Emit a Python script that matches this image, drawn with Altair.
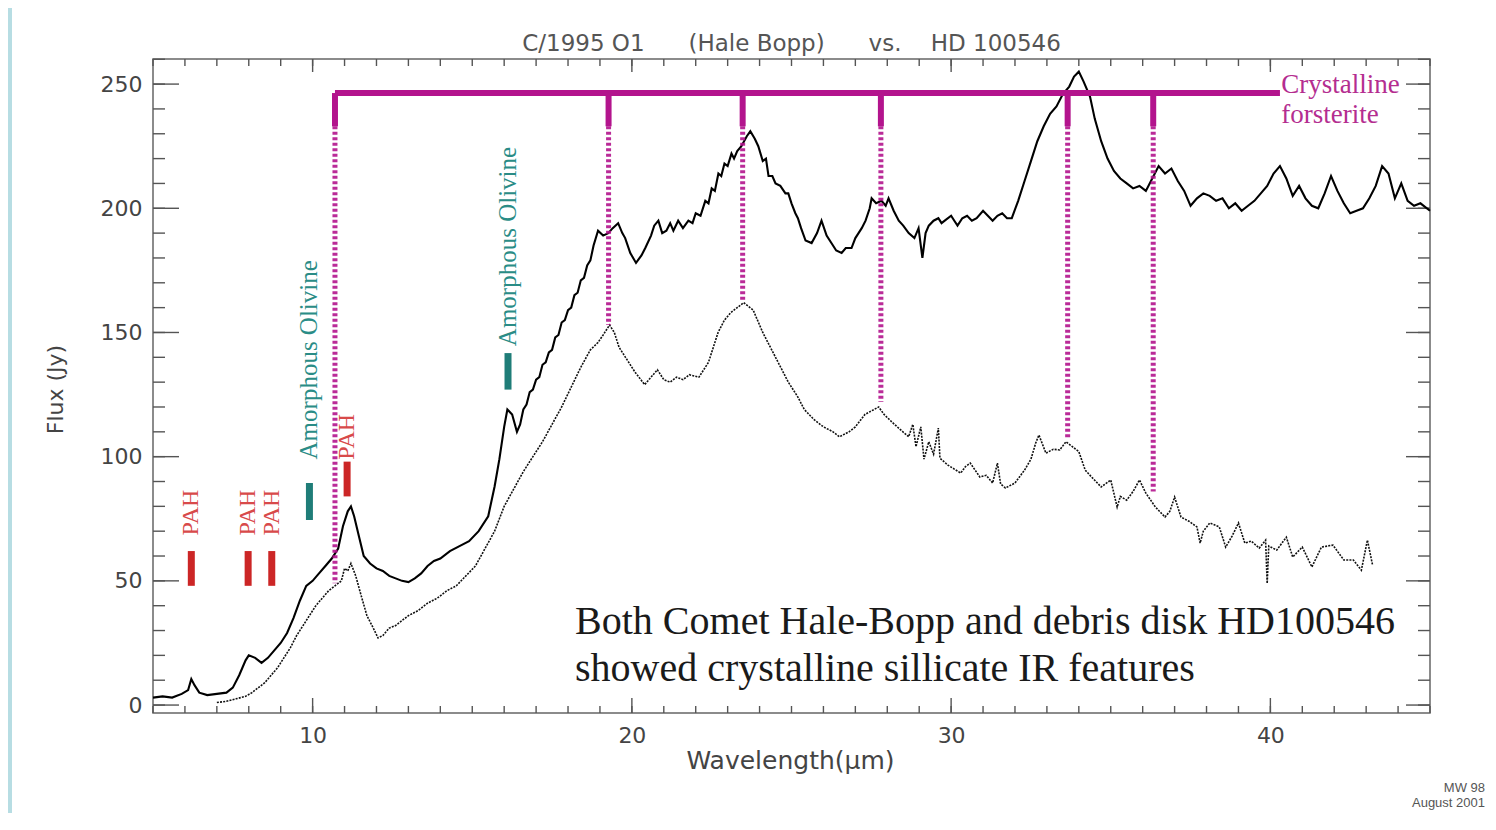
import altair as alt
import pandas as pd

# ---------------- data: (wavelength um, flux Jy) ----------------
comet_points = [
    (5.0, 3), (5.3, 3.5), (5.6, 3), (5.9, 4.5), (6.1, 6), (6.2, 10.5), (6.3, 8), (6.45, 5), (6.7, 4), (7.0, 4.5),
    (7.3, 5), (7.5, 7), (7.7, 12), (7.9, 18), (8.0, 20), (8.2, 19), (8.4, 17), (8.6, 19), (8.8, 22), (9.0, 25),
    (9.2, 29), (9.4, 35), (9.6, 42), (9.8, 48), (10.0, 50), (10.2, 53), (10.4, 56), (10.6, 59), (10.8, 63),
    (10.95, 72), (11.1, 78), (11.2, 80), (11.3, 76), (11.45, 68), (11.6, 60), (11.8, 57), (12.0, 55), (12.2, 54),
    (12.4, 52), (12.6, 51), (12.8, 50), (13.0, 49.5), (13.2, 51), (13.4, 53), (13.6, 56), (13.8, 58), (14.0, 59),
    (14.3, 62), (14.6, 64), (14.9, 66), (15.2, 70), (15.5, 76), (15.7, 88), (15.85, 99), (16.0, 112), (16.1, 119),
    (16.25, 117), (16.4, 110), (16.5, 113), (16.6, 119), (16.7, 121), (16.8, 126), (16.9, 127), (17.0, 131),
    (17.1, 132), (17.2, 137), (17.3, 138), (17.4, 142), (17.5, 143), (17.6, 148), (17.7, 149), (17.8, 154),
    (17.9, 155), (18.0, 159), (18.1, 160), (18.2, 165), (18.3, 166), (18.4, 171), (18.5, 172), (18.6, 177),
    (18.7, 179), (18.8, 185), (18.94, 191), (19.1, 189), (19.26, 190), (19.4, 192), (19.57, 194), (19.7, 190),
    (19.79, 188), (19.95, 182), (20.13, 178), (20.3, 181), (20.42, 184), (20.6, 189), (20.7, 193), (20.83, 195),
    (20.95, 190), (21.08, 191), (21.2, 194), (21.3, 191), (21.45, 195), (21.6, 192), (21.77, 195), (21.9, 194),
    (22.0, 198), (22.15, 197), (22.3, 203), (22.4, 202), (22.5, 208), (22.6, 207), (22.71, 214), (22.8, 213),
    (22.9, 218), (23.0, 217), (23.12, 222), (23.2, 220), (23.3, 223), (23.43, 225), (23.6, 229), (23.71, 231),
    (23.85, 228), (23.96, 225), (24.1, 219), (24.2, 220), (24.28, 213), (24.4, 213), (24.5, 210), (24.65, 209),
    (24.81, 206), (24.9, 206), (25.0, 202), (25.12, 198), (25.2, 196), (25.3, 192), (25.44, 187), (25.63, 186),
    (25.8, 190), (25.94, 195), (26.1, 189), (26.25, 186), (26.4, 183), (26.57, 182), (26.7, 184), (26.88, 184),
    (27.0, 188), (27.1, 190), (27.2, 192), (27.32, 195), (27.45, 200), (27.51, 204), (27.65, 202), (27.82, 203),
    (27.95, 201), (28.04, 204), (28.2, 199), (28.36, 195), (28.5, 193), (28.67, 190), (28.85, 188), (28.98, 192),
    (29.1, 180), (29.2, 190), (29.3, 193), (29.45, 195), (29.6, 196), (29.7, 194), (29.8, 195), (30.0, 197),
    (30.1, 195), (30.2, 193), (30.35, 196), (30.5, 197), (30.65, 195), (30.8, 196), (31.0, 199), (31.15, 197),
    (31.3, 195), (31.45, 197), (31.6, 198), (31.75, 196), (31.9, 196), (32.1, 203), (32.3, 211), (32.5, 219),
    (32.7, 227), (32.9, 233), (33.1, 238), (33.3, 241), (33.5, 246), (33.7, 249), (33.85, 253), (34.0, 255),
    (34.15, 251), (34.35, 245), (34.5, 236), (34.7, 227), (34.9, 220), (35.1, 215), (35.3, 212), (35.5, 210),
    (35.7, 208), (35.9, 209), (36.1, 207), (36.3, 212), (36.5, 217), (36.7, 214), (36.9, 216), (37.1, 211),
    (37.3, 207), (37.5, 201), (37.7, 204), (37.9, 206), (38.1, 205), (38.3, 203), (38.5, 204), (38.7, 200),
    (38.9, 202), (39.1, 199), (39.3, 201), (39.5, 203), (39.7, 206), (39.9, 209), (40.1, 214), (40.3, 217),
    (40.5, 212), (40.7, 205), (40.9, 209), (41.1, 204), (41.3, 201), (41.5, 200), (41.7, 206), (41.9, 213),
    (42.1, 207), (42.3, 202), (42.5, 198), (42.7, 199), (42.9, 200), (43.1, 204), (43.3, 209), (43.5, 217),
    (43.7, 214), (43.9, 204), (44.1, 210), (44.3, 203), (44.5, 201), (44.7, 202), (45.0, 199),
]

disk_points = [
    (7.0, 1), (7.3, 1.5), (7.6, 2.5), (7.9, 3.5), (8.1, 5), (8.3, 7), (8.5, 9), (8.7, 12), (8.9, 15), (9.1, 19),
    (9.3, 23), (9.5, 28), (9.7, 32), (9.9, 36), (10.1, 40), (10.3, 43), (10.5, 46), (10.7, 48), (10.9, 50),
    (11.0, 55), (11.1, 54), (11.2, 57), (11.35, 52), (11.5, 45), (11.7, 36), (11.9, 31), (12.05, 27), (12.2, 28),
    (12.4, 31), (12.6, 32), (12.8, 34), (13.0, 36), (13.3, 38), (13.6, 41), (13.9, 43), (14.2, 46), (14.5, 48),
    (14.8, 52), (15.1, 56), (15.4, 63), (15.7, 70), (16.0, 80), (16.3, 87), (16.6, 94), (16.9, 100), (17.2, 106),
    (17.5, 113), (17.8, 120), (18.1, 128), (18.4, 136), (18.7, 143), (18.94, 146), (19.1, 149), (19.3, 153),
    (19.45, 150), (19.6, 144), (19.8, 140), (20.1, 134), (20.4, 129), (20.6, 132), (20.8, 135), (21.0, 131),
    (21.2, 130), (21.4, 132), (21.6, 131), (21.8, 133), (22.1, 132), (22.4, 138), (22.7, 150), (22.9, 155),
    (23.1, 158), (23.3, 160), (23.5, 162), (23.8, 159), (24.1, 150), (24.5, 140), (24.9, 130), (25.2, 124),
    (25.4, 119), (25.7, 115), (26.0, 112), (26.3, 110), (26.5, 108), (26.8, 110), (27.0, 112), (27.3, 117),
    (27.73, 120), (27.9, 117), (28.14, 114), (28.4, 111), (28.67, 108), (28.8, 113), (28.9, 104), (29.05, 112),
    (29.15, 99), (29.3, 106), (29.45, 101), (29.6, 111.5), (29.65, 99.4), (29.9, 96.6), (30.1, 95), (30.3, 93.4),
    (30.45, 96), (30.6, 97.4), (30.9, 91.8), (31.1, 92.5), (31.3, 89.4), (31.45, 97.4), (31.55, 89), (31.7, 87.4),
    (32.0, 89.4), (32.3, 94.6), (32.5, 99), (32.65, 105.5), (32.75, 108.7), (32.97, 101.4), (33.2, 103),
    (33.4, 102.7), (33.6, 106), (33.8, 104), (34.0, 102), (34.2, 94.6), (34.4, 91.8), (34.7, 87.8), (35.0, 90.6),
    (35.2, 79.7), (35.3, 84), (35.5, 82.5), (35.7, 86), (35.9, 90.6), (36.1, 85.3), (36.4, 79.7), (36.7, 75.7),
    (36.85, 78), (37.0, 83.7), (37.2, 75.7), (37.45, 74), (37.7, 71.7), (37.8, 65.2), (37.9, 70), (38.1, 73.3),
    (38.4, 71.7), (38.6, 63.6), (38.8, 68), (39.0, 73.3), (39.2, 65.2), (39.4, 66), (39.65, 63.2), (39.85, 66.4),
    (39.9, 49), (39.95, 64), (40.2, 62.4), (40.5, 67.6), (40.7, 59.6), (41.0, 63.6), (41.3, 55.6), (41.6, 63.6),
    (41.96, 64.4), (42.3, 58.4), (42.6, 58.4), (42.85, 54.3), (43.04, 66.4), (43.2, 56.4),
]

forsterite_wl = [10.7, 19.27, 23.47, 27.8, 33.65, 36.33]
forsterite_dot_end = [49, 153, 163, 122, 107, 86]
forsterite_level = 246.4
forsterite_stub_end = 233
forsterite_bar_end = 40.3

pah_wl = [6.2, 7.98, 8.72, 11.08]
pah_lo = [48, 48, 48, 84]
pah_hi = [62, 62, 62, 98]
pah_label_y = [77.5, 77.5, 77.5, 108]

olivine_wl = [9.9, 16.12]
olivine_lo = [74.5, 127]
olivine_hi = [89.4, 141.7]
olivine_label_y = [139, 184.6]

x_major_ticks = [10, 20, 30, 40]
x_minor_ticks = list(range(5, 46))
y_major_ticks = [0, 50, 100, 150, 200, 250]
y_minor_ticks = list(range(0, 261, 10))

caption_lines = ["Both Comet Hale-Bopp and debris disk HD100546",
                 "showed crystalline sillicate IR features"]
caption_y = [28.6, 9.8]
caption_x = 18.22

# ---------------- layout ----------------
W, H = 1277, 654
PL, PT, PR, PB = 145, 51, 58, 100

MAG = "#b3148d"
RED = "#cc2626"
TEAL = "#1f7d78"
AX = "#555555"

xscale = alt.Scale(domain=[5, 45], nice=False, zero=False)
yscale = alt.Scale(domain=[-3.2, 260.1], nice=False, zero=False)
xaxis = alt.Axis(values=x_major_ticks, ticks=False, domain=False, grid=False, format="d",
                 labelFont="DejaVu Sans", labelFontSize=22, labelColor="#444", labelPadding=12,
                 title="Wavelength(\u03bcm)", titleFont="DejaVu Sans", titleFontSize=25,
                 titleFontWeight="normal", titleColor="#444", titleX=637, titleY=47,
                 titleBaseline="middle", titleAlign="center")
yaxis = alt.Axis(values=y_major_ticks, ticks=False, domain=False, grid=False, format="d",
                 labelFont="DejaVu Sans", labelFontSize=22, labelColor="#444", labelPadding=11,
                 title="Flux (Jy)", titleFont="DejaVu Sans", titleFontSize=22,
                 titleFontWeight="normal", titleColor="#444", titleX=-98, titleY=330,
                 titleBaseline="middle", titleAlign="center", titleAngle=270)


def X(f):
    return alt.X(f, type="quantitative", scale=xscale, axis=xaxis)


def Y(f):
    return alt.Y(f, type="quantitative", scale=yscale, axis=yaxis)


comet = pd.DataFrame(comet_points, columns=["x", "y"])
disk = pd.DataFrame(disk_points, columns=["x", "y"])
fors = pd.DataFrame({"x": forsterite_wl, "y": forsterite_dot_end,
                     "top": [forsterite_level] * len(forsterite_wl),
                     "stub": [forsterite_stub_end] * len(forsterite_wl)})
fors_bar = pd.DataFrame({"x": [forsterite_wl[0]], "x2": [forsterite_bar_end], "y": [forsterite_level]})
pah = pd.DataFrame({"x": pah_wl, "y": pah_lo, "y2": pah_hi, "ly": pah_label_y, "t": ["PAH"] * 4})
oliv = pd.DataFrame({"x": olivine_wl, "y": olivine_lo, "y2": olivine_hi, "ly": olivine_label_y,
                     "t": ["Amorphous Olivine"] * 2})
xmaj = pd.DataFrame({"x": x_major_ticks})
xmin = pd.DataFrame({"x": x_minor_ticks})
ymaj = pd.DataFrame({"y": y_major_ticks})
ymin = pd.DataFrame({"y": y_minor_ticks})
cap = pd.DataFrame({"x": [caption_x] * 2, "y": caption_y, "t": caption_lines})
fors_lbl = pd.DataFrame({"x": [40.34, 40.34], "y": [249.6, 237.5], "t": ["Crystalline", "forsterite"]})

layers = []

# page background (thin blue strip on the left)
layers.append(alt.Chart(pd.DataFrame({"k": [0]})).mark_rect(color="#b7dde3").encode(
    x=alt.value(-PL), x2=alt.value(-PL + 4), y=alt.value(-PT), y2=alt.value(H + PB)))


def tick_x(df, length, top):
    if top:
        return alt.Chart(df).mark_rule(color=AX, strokeWidth=1.4).encode(
            x=X("x"), y=alt.value(0), y2=alt.value(length))
    return alt.Chart(df).mark_rule(color=AX, strokeWidth=1.4).encode(
        x=X("x"), y=alt.value(H), y2=alt.value(H - length))


def tick_y(df, length, right):
    if right:
        return alt.Chart(df).mark_rule(color=AX, strokeWidth=1.4).encode(
            y=Y("y"), x=alt.value(W), x2=alt.value(W - length))
    return alt.Chart(df).mark_rule(color=AX, strokeWidth=1.4).encode(
        y=Y("y"), x=alt.value(0), x2=alt.value(length))


layers += [tick_x(xmin, 7, False), tick_x(xmaj, 15, False), tick_x(xmin, 7, True), tick_x(xmaj, 13, True),
           tick_y(ymin, 12, False), tick_y(ymaj, 26, False), tick_y(ymin, 12, True), tick_y(ymaj, 24, True)]

# spectra
layers.append(alt.Chart(disk).mark_line(color="#111", strokeWidth=1.6, strokeDash=[2, 1.2]).encode(
    x=X("x"), y=Y("y")))
layers.append(alt.Chart(comet).mark_line(color="#000", strokeWidth=2.1).encode(x=X("x"), y=Y("y")))

# forsterite markers
layers.append(alt.Chart(fors).mark_rule(color=MAG, strokeWidth=5, strokeDash=[3, 2.5], opacity=0.9).encode(
    x=X("x"), y=Y("stub"), y2="y"))
layers.append(alt.Chart(fors).mark_rule(color=MAG, strokeWidth=6).encode(
    x=X("x"), y=Y("top"), y2="stub"))
layers.append(alt.Chart(fors_bar).mark_rule(color=MAG, strokeWidth=6).encode(
    x=X("x"), x2="x2", y=Y("y")))
layers.append(alt.Chart(fors_lbl).mark_text(color="#b42d90", font="Liberation Serif", fontSize=27,
                                            align="left", baseline="middle").encode(
    x=X("x"), y=Y("y"), text="t:N"))

# PAH and olivine bars + labels
layers.append(alt.Chart(pah).mark_rule(color=RED, strokeWidth=7).encode(x=X("x"), y=Y("y"), y2="y2"))
layers.append(alt.Chart(pah).mark_text(color="#d84a4a", font="Liberation Serif", fontSize=24, angle=270,
                                       align="center", baseline="middle").encode(
    x=X("x"), y=Y("ly"), text="t:N"))
layers.append(alt.Chart(oliv).mark_rule(color=TEAL, strokeWidth=7).encode(x=X("x"), y=Y("y"), y2="y2"))
layers.append(alt.Chart(oliv).mark_text(color="#2a8c86", font="Liberation Serif", fontSize=25, angle=270,
                                        align="center", baseline="middle").encode(
    x=X("x"), y=Y("ly"), text="t:N"))

# caption
layers.append(alt.Chart(cap).mark_text(color="#1a1a1a", font="Liberation Serif", fontSize=40,
                                       align="left", baseline="alphabetic").encode(
    x=X("x"), y=Y("y"), text="t:N"))

# title and credits
NB = "\u00a0"
title_txt = f"C/1995 O1{NB * 6}(Hale Bopp){NB * 6}vs.{NB * 4}HD 100546"
layers.append(alt.Chart(pd.DataFrame({"t": [title_txt]})).mark_text(
    color="#555", font="DejaVu Sans", fontSize=23, align="center", baseline="middle").encode(
    x=alt.value(W / 2), y=alt.value(-15), text="t:N"))
layers.append(alt.Chart(pd.DataFrame({"t": ["MW 98", "August 2001"], "yy": [729, 744]})).mark_text(
    color="#555", font="Liberation Sans", fontSize=13, align="right", baseline="middle").encode(
    x=alt.value(1332), y=alt.Y("yy:Q", scale=None), text="t:N"))

chart = alt.layer(*layers).properties(
    width=W, height=H,
    autosize=alt.AutoSizeParams(type="none"),
    padding={"left": PL, "top": PT, "right": PR, "bottom": PB},
    background="white",
).configure_view(stroke="#666", strokeWidth=1.5)

chart.save("out.html", embed_options={"renderer": "svg", "actions": False})
